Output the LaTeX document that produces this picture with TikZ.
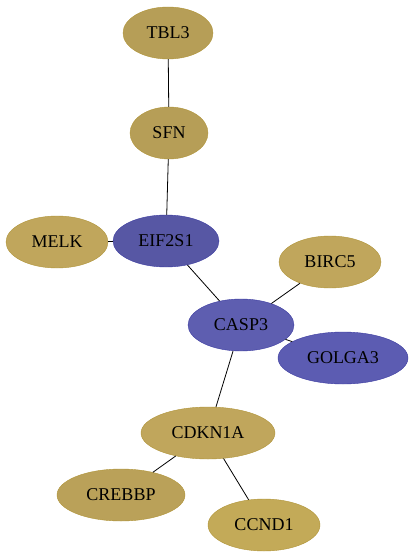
\documentclass[tikz,border=0pt]{standalone}
\usepackage{fontspec}
\setmainfont{Liberation Serif}
\usetikzlibrary{shapes.geometric}
\definecolor{goldfill}{HTML}{C0A65C}
\definecolor{goldline}{HTML}{B09438}
\definecolor{bluefill}{HTML}{5E5EB0}
\definecolor{blueline}{HTML}{3A3AA0}

\tikzset{
  gene/.style={ellipse, draw=goldline, fill=goldfill, inner sep=0pt,
    minimum height=52pt, font=\fontsize{18}{20}\selectfont},
  seed/.style={gene, draw=blueline, fill=bluefill},
  link/.style={draw=black, line width=0.8pt}
}

\begin{document}
\begin{tikzpicture}[x=1pt, y=-1pt]
    \useasboundingbox (0,0) rectangle (416,559);

    \node[gene, minimum width=90pt, fill=goldfill!95!black] (tbl3) at (168,33) {TBL3};
    \node[gene, minimum width=78pt, fill=goldfill!95!black] (sfn) at (169,133) {SFN};
    \node[seed, minimum width=106pt, fill=bluefill!93!black] (eif2s1) at (166,241) {EIF2S1};
    \node[gene, minimum width=102pt] (melk) at (57,242) {MELK};
    \node[gene, minimum width=102pt] (birc5) at (330,262) {BIRC5};
    \node[seed, minimum width=106pt] (casp3) at (241,325) {CASP3};
    \node[seed, minimum width=130pt, fill=bluefill!98!blue] (golga3) at (343,358) {GOLGA3};
    \node[gene, minimum width=134pt] (cdkn1a) at (208,433) {CDKN1A};
    \node[gene, minimum width=128pt, fill=goldfill!97!black] (crebbp) at (121,495) {CREBBP};
    \node[gene, minimum width=112pt, fill=goldfill!96!yellow] (ccnd1) at (264,525) {CCND1};

    % interactions
    \draw[link] (tbl3) -- (sfn);
    \draw[link] (sfn) -- (eif2s1);
    \draw[link] (melk) -- (eif2s1);
    \draw[link] (eif2s1) -- (casp3);
    \draw[link] (birc5) -- (casp3);
    \draw[link] (casp3) -- (golga3);
    \draw[link] (casp3) -- (cdkn1a);
    \draw[link] (cdkn1a) -- (crebbp);
    \draw[link] (cdkn1a) -- (ccnd1);
  \end{tikzpicture}
\end{document}
